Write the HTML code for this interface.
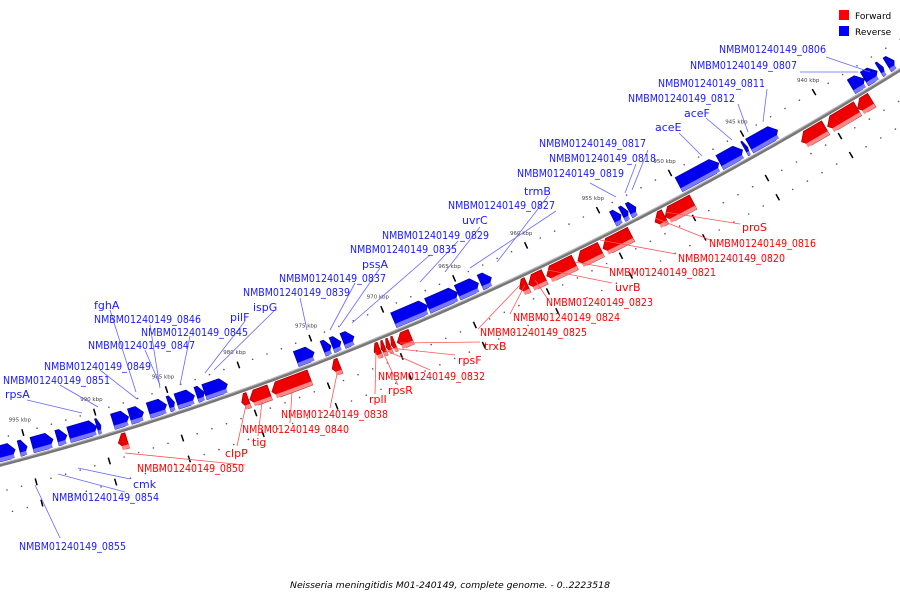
<!DOCTYPE html>
<html><head><meta charset="utf-8"><style>
html,body{margin:0;padding:0;background:#fff;}
svg{display:block;font-family:"DejaVu Sans","Liberation Sans",sans-serif;}
</style></head><body>
<svg id="map" width="900" height="600" viewBox="0 0 900 600" xmlns="http://www.w3.org/2000/svg">
<g id="dots"></g>
<path id="backbone" fill="none" stroke="#777" stroke-width="3.5"/>
<path id="backbone2" fill="none" stroke="#bbb" stroke-width="1"/>
<g id="genes"></g>
<g id="labels" font-size="11"></g>
<g font-size="9">
<rect x="839" y="10" width="10" height="10" fill="#ff0000"/>
<text x="855" y="19">Forward</text>
<rect x="839" y="26" width="10" height="10" fill="#0000ff"/>
<text x="855" y="35">Reverse</text>
</g>
<text x="450" y="588" text-anchor="middle" font-size="9" textLength="320" lengthAdjust="spacingAndGlyphs"><tspan font-style="italic">Neisseria meningitidis M01-240149, complete genome. - 0..2223518</tspan></text>
</svg>
<script>
// gene data (kbp)
const blueStart=[934.97,935.72,936.14,937.03,943.03,945.10,945.45,947.10,952.83,953.38,953.86,962.83,963.72,965.17,967.24,972.34,973.24,973.93,975.10,981.10,982.69,983.38,984.76,985.31,986.90,987.93,989.86,990.14,992.21,993.17,994.97,995.79];
const blueEnd=[935.45,936.00,937.03,937.93,944.97,945.31,947.03,949.86,953.31,953.79,954.41,963.59,965.17,967.24,969.59,973.10,973.86,974.48,976.34,982.69,983.24,984.62,985.17,986.55,987.86,989.03,990.14,992.07,992.90,994.62,995.52,997.03];
const redStart=[937.31,938.28,940.48,949.59,951.52,953.86,955.93,957.72,959.79,960.97,968.97,970.07,970.41,970.76,971.10,973.86,975.93,978.69,980.14,988.48];
const redEnd=[938.28,940.34,942.14,951.52,952.21,955.79,957.52,959.66,960.90,961.52,969.93,970.34,970.69,971.03,971.52,974.41,978.55,980.07,980.62,989.10];
const tickKbp=[940,945,950,955,960,965,970,975,980,985,990,995];
const tickLabels=["940 kbp","945 kbp","950 kbp","955 kbp","960 kbp","965 kbp","970 kbp","975 kbp","980 kbp","985 kbp","990 kbp","995 kbp"];

const NS="http://www.w3.org/2000/svg";
function X(k){return 827-(k-940)*14.5;}
function Y(x){return 465-0.2584*x-0.0002006*x*x;}
function P(x,off){const d=-0.2584-0.0004012*x;const L=Math.sqrt(1+d*d);return [x+off*d/L,Y(x)-off/L];}
function mk(tag,attrs,parent){const e=document.createElementNS(NS,tag);for(const k in attrs)e.setAttribute(k,attrs[k]);parent.appendChild(e);return e;}
let d="";for(let x=-5;x<=905;x+=5){d+=(x===-5?"M":"L")+x+","+Y(x).toFixed(1);}
document.getElementById('backbone').setAttribute('d',d);
let d2="";for(let x=-5;x<=905;x+=5){const p=P(x,1.2);d2+=(x===-5?"M":"L")+p[0].toFixed(1)+","+p[1].toFixed(1);}
document.getElementById('backbone2').setAttribute('d',d2);
const dg=document.getElementById('dots');
for(let k=934;k<=998;k++){
  const x=X(k);
  [26,-26,-48].forEach(function(off){
    const p=P(x,off);
    const c=mk('circle',{cx:p[0].toFixed(1),cy:p[1].toFixed(1),r:0.8,fill:'#555'},dg);
    
    
  });
}
tickKbp.forEach(function(k,i){
  const x=X(k);
  [[22,29],[-22,-29],[-44,-51]].forEach(function(o){
    const a=P(x,o[0]),b=P(x,o[1]);
    const l=mk('line',{x1:a[0],y1:a[1],x2:b[0],y2:b[1],stroke:'#000','stroke-width':1.5},dg);
    
    
  });
  const p=P(x,37);
  const t=mk('text',{x:p[0].toFixed(1),y:p[1].toFixed(1),'font-size':5.5,'text-anchor':'middle',fill:'#444'},dg);
  t.textContent=tickLabels[i];
  
  
});
const gg=document.getElementById('genes');
function gene(k1,k2,sign,main,light,dark,pointRight){
  const xa=X(k2),xb=X(k1);
  const lo=3*sign,hi=19*sign,mid=11*sign;
  const ah=Math.min(6,(xb-xa)*0.6);
  let pts;
  if(pointRight){pts=[P(xa,lo),P(xa,hi),P(xb-ah,hi),P(xb,mid),P(xb-ah,lo)];}
  else{pts=[P(xb,lo),P(xb,hi),P(xa+ah,hi),P(xa,mid),P(xa+ah,lo)];}
  const s=pts.map(p=>p[0].toFixed(1)+","+p[1].toFixed(1)).join(" ");
  const g=mk('polygon',{points:s,fill:main,stroke:dark,'stroke-width':0.6},gg);
  
  
  const ls=sign>0?[P(xa,3),P(xa,7),P(xb-ah*0.4,7),P(xb-ah*0.4,3)]:[P(xa+ah*0.4,-15),P(xa+ah*0.4,-19),P(xb,-19),P(xb,-15)];
  const sh=mk('polygon',{points:ls.map(p=>p[0].toFixed(1)+","+p[1].toFixed(1)).join(" "),fill:light},gg);
  
  
}
for(let i=0;i<blueStart.length;i++)gene(blueStart[i],blueEnd[i],1,'#0000ee','#7777ff','#00008a',true);
for(let i=0;i<redStart.length;i++)gene(redStart[i],redEnd[i],-1,'#ee0000','#ff8888','#8a0000',false);
const B='#1a1aff',R='#ff0000';
const labs=[
["NMBM01240149_0806",719,53,826,57,870,72,B],["NMBM01240149_0807",690,69,800,72,858,72,B],
["NMBM01240149_0811",658,87,767,89,763,122,B],["NMBM01240149_0812",628,102,738,104,748,132,B],
["aceF",684,117,706,118,732,140,B],["aceE",655,131,679,133,702,156,B],
["NMBM01240149_0817",539,147,648,150,632,190,B],["NMBM01240149_0818",549,162,636,164,625,193,B],
["NMBM01240149_0819",517,177,590,183,616,197,B],["trmB",524,195,548,196,497,262,B],
["NMBM01240149_0827",448,209,556,211,470,268,B],["uvrC",462,224,480,227,445,272,B],
["NMBM01240149_0829",382,239,458,241,420,282,B],["NMBM01240149_0835",350,253,430,255,352,323,B],
["pssA",362,268,380,268,340,326,B],["NMBM01240149_0837",279,282,355,283,330,330,B],
["NMBM01240149_0839",243,296,300,298,307,330,B],["ispG",253,311,275,310,214,370,B],
["pilF",230,321,245,321,205,373,B],["fghA",94,309,110,310,136,392,B],
["NMBM01240149_0846",94,323,150,325,160,388,B],["NMBM01240149_0845",141,336,190,336,180,385,B],
["NMBM01240149_0847",88,349,145,350,160,385,B],["NMBM01240149_0849",44,370,100,370,137,399,B],
["NMBM01240149_0851",3,384,60,385,98,407,B],["rpsA",5,398,27,400,82,413,B],
["cmk",133,488,130,479,78,468,B],["NMBM01240149_0854",52,501,125,492,58,474,B],
["NMBM01240149_0855",19,550,60,538,35,485,B],
["proS",742,231,740,224,665,212,R],["NMBM01240149_0816",709,247,710,240,655,218,R],
["NMBM01240149_0820",678,262,676,254,600,240,R],["NMBM01240149_0821",609,276,609,268,575,262,R],
["uvrB",615,291,612,283,548,270,R],["NMBM01240149_0823",546,306,547,298,535,280,R],
["NMBM01240149_0824",513,321,510,314,525,285,R],["NMBM01240149_0825",480,336,478,329,520,285,R],
["trxB",484,350,480,342,400,343,R],["rpsF",458,364,455,355,390,348,R],
["NMBM01240149_0832",378,380,430,370,385,350,R],["rpsR",388,394,398,385,383,352,R],
["rplI",369,403,375,394,376,352,R],["NMBM01240149_0838",281,418,330,408,337,374,R],
["NMBM01240149_0840",242,433,290,423,292,392,R],["tig",252,446,258,436,262,402,R],
["clpP",225,457,237,446,246,405,R],["NMBM01240149_0850",137,472,245,465,125,453,R]
];
const lg=document.getElementById('labels');
labs.forEach(function(L){
  const ln=mk('line',{x1:L[3],y1:L[4],x2:L[5],y2:L[6],stroke:L[7]===B?'#6666ff':'#ff5555','stroke-width':0.8},lg);
  
  
  const a={x:L[1],y:L[2],fill:L[7]};
  if(L[0].length>10){a.textLength=107;a.lengthAdjust='spacingAndGlyphs';}
  const t=mk('text',a,lg);
  t.textContent=L[0];
  
  
});
</script>
</body></html>
